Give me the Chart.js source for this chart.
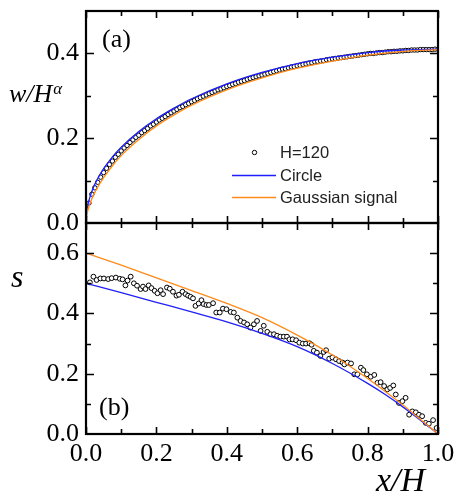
<!DOCTYPE html>
<html><head><meta charset="utf-8">
<script src="https://cdn.jsdelivr.net/npm/chart.js@4.4.1/dist/chart.umd.min.js"></script>
<style>
html,body{margin:0;padding:0;background:#fff;}
#wrap{position:relative;width:455px;height:494px;background:#fff;}
canvas{position:absolute;left:0;top:0;}
</style></head><body>
<div id="wrap"><canvas id="cTop" width="455" height="494"></canvas><canvas id="cBot" width="455" height="494"></canvas></div>
<script>
// ---------- data ----------
const xTicks = [0, 0.2, 0.4, 0.6, 0.8, 1.0];
const xTickLabels = ['0.0', '0.2', '0.4', '0.6', '0.8', '1.0'];
const xMinorTicks = [0, 0.1, 0.2, 0.3, 0.4, 0.5, 0.6, 0.7, 0.8, 0.9, 1.0];
const topYTicks = [0, 0.2, 0.4];
const topYTickLabels = ['0.0', '0.2', '0.4'];
const topYMinorTicks = [0.1, 0.2, 0.3, 0.4];
const botYTicks = [0, 0.2, 0.4, 0.6];
const botYTickLabels = ['0.0', '0.2', '0.4', '0.6'];
const botYMinorTicks = [0.1, 0.2, 0.3, 0.4, 0.5, 0.6];

// panel (a): w/H^alpha
const topCurveX  = [0, 0.002, 0.005, 0.01, 0.02, 0.03, 0.05, 0.075, 0.1, 0.15, 0.2, 0.25, 0.3, 0.4, 0.5, 0.6, 0.7, 0.8, 0.9, 1.0];
const topCircleY = [0, 0.026, 0.041, 0.058, 0.082, 0.100, 0.128, 0.156, 0.179, 0.216, 0.246, 0.271, 0.293, 0.328, 0.355, 0.376, 0.391, 0.402, 0.408, 0.410];
const topGaussY  = [0, 0.017, 0.029, 0.043, 0.064, 0.080, 0.107, 0.135, 0.159, 0.197, 0.229, 0.255, 0.278, 0.314, 0.342, 0.365, 0.382, 0.396, 0.405, 0.409];
// H=120 data, sampled at x = i/120, i = 1..120
const topDataY = [
 0.047,0.068,0.083,0.096,0.108,0.119,0.129,0.138,0.146,0.155,
 0.162,0.170,0.177,0.183,0.190,0.196,0.202,0.207,0.213,0.218,
 0.223,0.229,0.233,0.238,0.243,0.247,0.251,0.256,0.260,0.264,
 0.268,0.272,0.275,0.279,0.282,0.286,0.289,0.293,0.296,0.299,
 0.302,0.305,0.308,0.311,0.314,0.316,0.319,0.322,0.324,0.327,
 0.329,0.332,0.334,0.336,0.339,0.341,0.343,0.345,0.347,0.349,
 0.351,0.353,0.355,0.357,0.359,0.361,0.363,0.364,0.366,0.368,
 0.369,0.371,0.372,0.374,0.375,0.377,0.378,0.380,0.381,0.382,
 0.383,0.385,0.386,0.387,0.388,0.389,0.390,0.391,0.392,0.393,
 0.394,0.395,0.396,0.397,0.398,0.399,0.400,0.400,0.401,0.402,
 0.402,0.403,0.404,0.404,0.405,0.405,0.406,0.406,0.407,0.407,
 0.408,0.408,0.408,0.409,0.409,0.409,0.409,0.409,0.410,0.410
];
const topDataX = topDataY.map((_, i) => (i + 1) / 120);

// panel (b): s
const botCurveX  = [0, 0.1, 0.2, 0.3, 0.4, 0.5, 0.6, 0.7, 0.8, 0.85, 0.9, 0.95, 1.0];
const botCircleY = [0.500, 0.469, 0.437, 0.405, 0.372, 0.334, 0.290, 0.234, 0.168, 0.131, 0.090, 0.046, 0];
const botGaussY  = [0.600, 0.560, 0.518, 0.476, 0.433, 0.386, 0.328, 0.262, 0.184, 0.141, 0.096, 0.048, 0];
const botDataX = [
 0.011,0.021,0.030,0.041,0.051,0.063,0.073,0.085,0.096,0.104,0.112,0.118,0.127,0.136,0.145,0.155,0.162,0.169,0.178,0.186,0.195,0.203,
 0.212,0.219,0.230,0.238,0.247,0.257,0.264,0.274,0.283,0.290,0.297,0.304,0.311,0.320,0.328,0.334,0.342,0.349,0.361,0.370,0.380,0.389,
 0.399,0.411,0.420,0.430,0.439,0.449,0.458,0.467,0.477,0.486,0.496,0.505,0.515,0.524,0.534,0.543,0.552,0.562,0.571,0.578,0.587,0.597,
 0.606,0.616,0.625,0.635,0.641,0.647,0.656,0.666,0.675,0.682,0.691,0.700,0.710,0.719,0.729,0.734,0.743,0.753,0.762,0.771,0.781,0.788,
 0.798,0.809,0.819,0.828,0.837,0.847,0.856,0.864,0.873,0.880,0.889,0.899,0.908,0.918,0.927,0.937,0.946,0.955,0.965,0.974,0.986,0.996
];
const botDataY = [
 0.503,0.522,0.511,0.516,0.516,0.514,0.517,0.519,0.515,0.513,0.493,0.509,0.522,0.500,0.492,0.481,0.489,0.481,0.493,0.484,0.475,0.467,
 0.477,0.464,0.486,0.482,0.472,0.459,0.462,0.472,0.464,0.459,0.455,0.450,0.425,0.433,0.444,0.431,0.428,0.428,0.434,0.403,0.403,0.416,
 0.414,0.405,0.403,0.386,0.375,0.370,0.364,0.353,0.364,0.375,0.342,0.359,0.339,0.331,0.331,0.326,0.323,0.323,0.323,0.314,0.314,0.311,
 0.303,0.300,0.300,0.301,0.296,0.276,0.270,0.259,0.272,0.278,0.250,0.254,0.248,0.242,0.237,0.231,0.237,0.234,0.198,0.198,0.220,0.212,
 0.198,0.190,0.196,0.170,0.172,0.159,0.148,0.153,0.161,0.131,0.103,0.109,0.120,0.064,0.075,0.072,0.064,0.059,0.037,0.034,0.046,0.020
];

// ---------- styling ----------
const BLUE = '#1f1fff';
const ORANGE = '#ff8a1c';
const SERIF = '"Liberation Serif", "Times New Roman", serif';
const SANS = '"Liberation Sans", Arial, sans-serif';
Chart.defaults.font.family = SERIF;
Chart.defaults.color = '#000';

const pts = (xs, ys) => xs.map((x, i) => ({ x: x, y: ys[i] }));

function framePlugin(id, yMinor, yMajor, drawBottomTicks) {
  return {
    id: id,
    afterDatasetsDraw(chart) {
      const ctx = chart.ctx, a = chart.chartArea;
      const xs = chart.scales.x, ys = chart.scales.y;
      ctx.save();
      ctx.strokeStyle = '#000';
      ctx.lineWidth = 1.6;
      ctx.beginPath();
      xMinorTicks.forEach(v => {
        const p = Math.round(xs.getPixelForValue(v)) + 0.5;
        const L = xTicks.some(t => Math.abs(t - v) < 1e-9) ? 7 : 5;
        ctx.moveTo(p, a.top); ctx.lineTo(p, a.top + L);
        if (drawBottomTicks) { ctx.moveTo(p, a.bottom); ctx.lineTo(p, a.bottom - L); }
      });
      yMinor.forEach(v => {
        const p = Math.round(ys.getPixelForValue(v)) + 0.5;
        const L = yMajor.some(t => Math.abs(t - v) < 1e-9) ? 8 : 5;
        ctx.moveTo(a.left, p); ctx.lineTo(a.left + L, p);
        ctx.moveTo(a.right, p); ctx.lineTo(a.right - L, p);
      });
      ctx.stroke();
      ctx.lineWidth = 2.2;
      ctx.strokeRect(a.left, a.top, a.right - a.left, a.bottom - a.top);
      ctx.restore();
    }
  };
}

const textTop = {
  id: 'textTop',
  afterDraw(chart) {
    const ctx = chart.ctx;
    ctx.save();
    ctx.fillStyle = '#000';
    ctx.textBaseline = 'alphabetic';
    ctx.textAlign = 'left';
    ctx.font = 'italic 26px ' + SERIF;
    ctx.fillText('w/H', 9, 102);
    const w = ctx.measureText('w/H').width;
    ctx.font = 'italic 17px ' + SERIF;
    ctx.fillText('\u03B1', 9 + w + 1, 94);
    ctx.font = '26px ' + SERIF;
    ctx.fillText('(a)', 102, 47);
    // legend
    const lx = 280;
    ctx.font = '16.5px ' + SANS;
    ctx.fillStyle = '#222';
    ctx.textBaseline = 'middle';
    const items = chart.data.datasets;
    ctx.beginPath();
    ctx.arc(254.5, 152.5, 2.2, 0, Math.PI * 2);
    ctx.lineWidth = 1; ctx.strokeStyle = '#000'; ctx.stroke();
    ctx.fillText(items[0].label, lx, 153);
    ctx.lineWidth = 1.3;
    ctx.strokeStyle = items[1].borderColor;
    ctx.beginPath(); ctx.moveTo(232, 175.5); ctx.lineTo(276, 175.5); ctx.stroke();
    ctx.fillText(items[1].label, lx, 176);
    ctx.strokeStyle = items[2].borderColor;
    ctx.beginPath(); ctx.moveTo(232, 197.5); ctx.lineTo(276, 197.5); ctx.stroke();
    ctx.fillText(items[2].label, lx, 198);
    ctx.restore();
  }
};

const textBot = {
  id: 'textBot',
  afterDraw(chart) {
    const ctx = chart.ctx;
    ctx.save();
    ctx.fillStyle = '#000';
    ctx.textBaseline = 'alphabetic';
    ctx.textAlign = 'left';
    ctx.font = 'italic 32px ' + SERIF;
    ctx.fillText('s', 11, 287);
    ctx.font = 'italic 34px ' + SERIF;
    ctx.fillText('x/H', 376, 491);
    ctx.font = '26px ' + SERIF;
    ctx.fillText('(b)', 99, 415);
    ctx.restore();
  }
};

const yFit = (s) => { s.width = 86; s.paddingTop = 0; s.paddingBottom = 0; };

const common = {
  responsive: false,
  animation: false,
  devicePixelRatio: 1,
  plugins: { legend: { display: false }, tooltip: { enabled: false } },
};

new Chart(document.getElementById('cTop'), {
  type: 'scatter',
  data: {
    datasets: [
      { label: 'H=120', data: pts(topDataX, topDataY), pointRadius: 2.2, pointBorderWidth: 1,
        borderColor: '#000', backgroundColor: '#fff', showLine: false, order: 2 },
      { label: 'Circle', data: pts(topCurveX, topCircleY), showLine: true, pointRadius: 0,
        borderColor: BLUE, borderWidth: 1.3, cubicInterpolationMode: 'monotone', order: 1 },
      { label: 'Gaussian signal', data: pts(topCurveX, topGaussY), showLine: true, pointRadius: 0,
        borderColor: ORANGE, borderWidth: 1.3, cubicInterpolationMode: 'monotone', order: 0 }
    ]
  },
  options: Object.assign({}, common, {
    layout: { padding: { left: 0, right: 17, top: 11, bottom: 271 } },
    scales: {
      x: { type: 'linear', min: 0, max: 1, display: false },
      y: {
        type: 'linear', min: 0, max: 0.5, position: 'left',
        grid: { display: false, drawTicks: false }, border: { display: false },
        afterBuildTicks: (s) => { s.ticks = topYTicks.map(v => ({ value: v })); },
        afterFit: yFit,
        ticks: { padding: 7, font: { size: 26, family: SERIF }, color: '#000',
          callback: (v) => topYTickLabels[topYTicks.indexOf(v)] }
      }
    },
    plugins: Object.assign({}, common.plugins)
  }),
  plugins: [framePlugin('frameTop', topYMinorTicks, topYTicks, true), textTop]
});

new Chart(document.getElementById('cBot'), {
  type: 'scatter',
  data: {
    datasets: [
      { label: 'H=120', data: pts(botDataX, botDataY), pointRadius: 2.4, pointBorderWidth: 1,
        borderColor: '#000', backgroundColor: '#fff', showLine: false, order: 2 },
      { label: 'Circle', data: pts(botCurveX, botCircleY), showLine: true, pointRadius: 0,
        borderColor: BLUE, borderWidth: 1.3, cubicInterpolationMode: 'monotone', order: 1 },
      { label: 'Gaussian signal', data: pts(botCurveX, botGaussY), showLine: true, pointRadius: 0,
        borderColor: ORANGE, borderWidth: 1.3, cubicInterpolationMode: 'monotone', order: 0 }
    ]
  },
  options: Object.assign({}, common, {
    layout: { padding: { left: 0, right: 17, top: 223, bottom: 0 } },
    scales: {
      x: {
        type: 'linear', min: 0, max: 1, position: 'bottom',
        grid: { display: false, drawTicks: false }, border: { display: false },
        afterBuildTicks: (s) => { s.ticks = xTicks.map(v => ({ value: v })); },
        afterFit: (s) => { s.height = 60; s.paddingLeft = 0; s.paddingRight = 0; },
        ticks: { padding: 5, maxRotation: 0, autoSkip: false, font: { size: 26, family: SERIF }, color: '#000',
          callback: (v) => xTickLabels[xTicks.indexOf(v)] }
      },
      y: {
        type: 'linear', min: 0, max: 0.7, position: 'left',
        grid: { display: false, drawTicks: false }, border: { display: false },
        afterBuildTicks: (s) => { s.ticks = botYTicks.map(v => ({ value: v })); },
        afterFit: yFit,
        ticks: { padding: 7, font: { size: 26, family: SERIF }, color: '#000',
          callback: (v) => botYTickLabels[botYTicks.indexOf(v)] }
      }
    },
    plugins: Object.assign({}, common.plugins)
  }),
  plugins: [framePlugin('frameBot', botYMinorTicks, botYTicks, true), textBot]
});
</script>
</body></html>
